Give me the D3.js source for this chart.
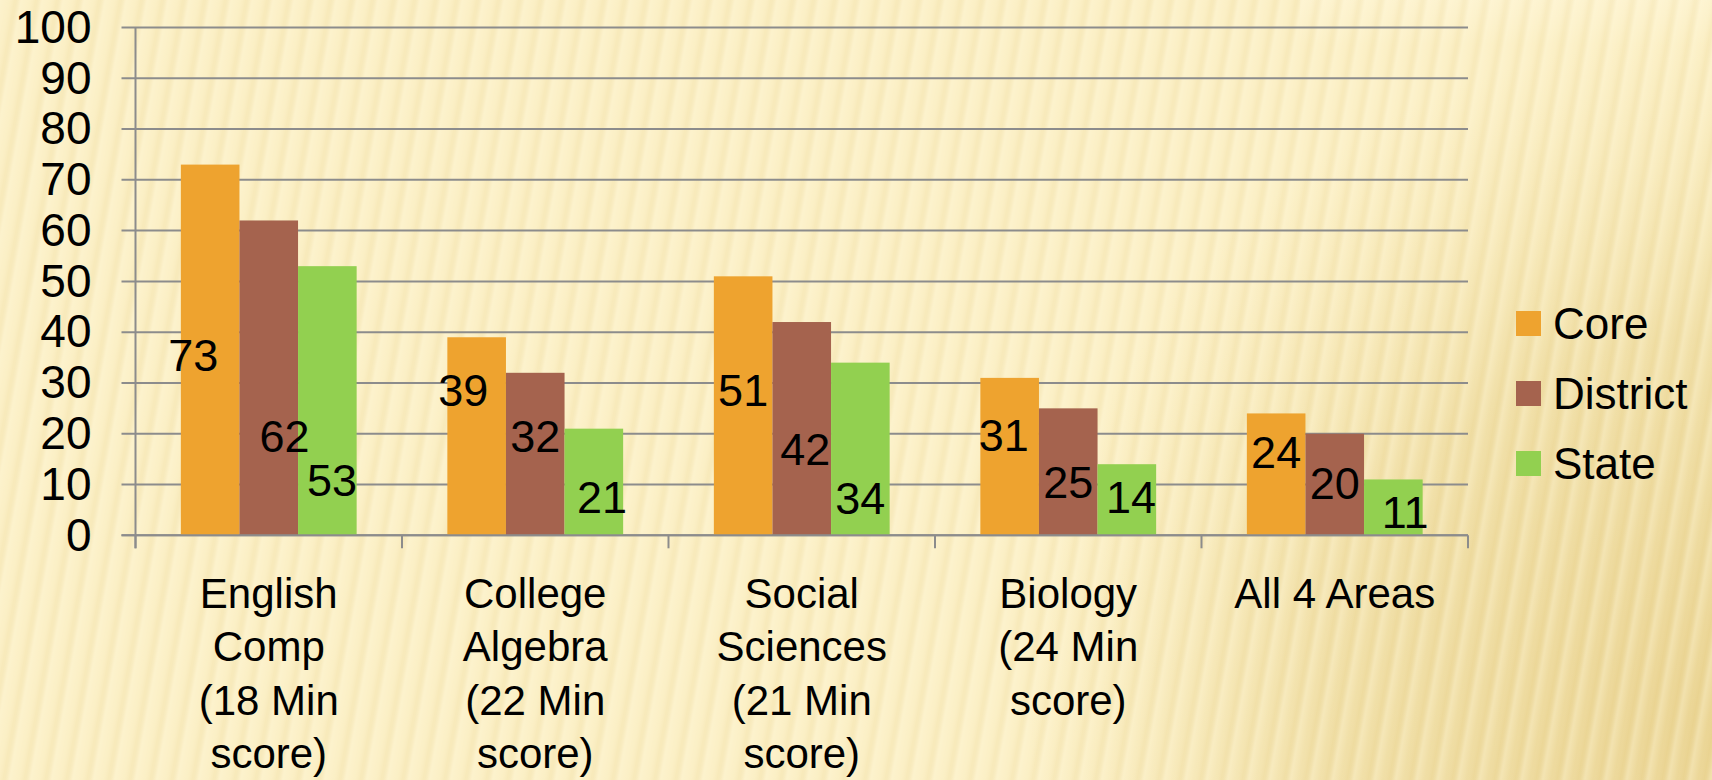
<!DOCTYPE html>
<html lang="en">
<head>
<meta charset="utf-8">
<script src="https://d3js.org/d3.v7.min.js"></script>
<style>
  html, body { margin: 0; padding: 0; background: #fbefc4; }
  svg { display: block; }
  text { font-family: "Liberation Sans", Arial, sans-serif; fill: #000; }
</style>
</head>
<body>
<div id="my_dataviz"></div>
<script>

// data
var categories = ["English Comp", "College Algebra", "Social Sciences", "Biology", "All 4 Areas"];
var categoryLines = [
  ["English", "Comp", "(18 Min", "score)"],
  ["College", "Algebra", "(22 Min", "score)"],
  ["Social", "Sciences", "(21 Min", "score)"],
  ["Biology", "(24 Min", "score)"],
  ["All 4 Areas"]
];
var seriesNames = ["Core", "District", "State"];
var core     = [73, 39, 51, 31, 24];
var district = [62, 32, 42, 25, 20];
var state    = [53, 21, 34, 14, 11];
// where the value labels sit, in axis units (they are not centred in the original)
var coreLabelAt     = [35.5, 28.6, 28.6, 19.7, 16.5];
var districtLabelAt = [19.6, 19.6, 17.1, 10.5, 10.4];
var stateLabelAt    = [10.9, 7.5, 7.4, 7.5, 4.6];
// sideways nudge of the labels, in bar widths
var coreLabelShift     = [-0.29, -0.23, 0, -0.1, 0];
var districtLabelShift = [0.27, 0, 0.06, 0, 0];
var stateLabelShift    = [0.08, 0.14, 0, 0.07, 0.2];
var yTicks = [0, 10, 20, 30, 40, 50, 60, 70, 80, 90, 100];

var seriesValues = [core, district, state];
var seriesLabelAt = [coreLabelAt, districtLabelAt, stateLabelAt];
var seriesLabelShift = [coreLabelShift, districtLabelShift, stateLabelShift];
var colors = ["#eea32f", "#a5634e", "#92d050"];

var W = 1712, H = 780;
// plot box (note: "top" is taken by window.top, so use other names)
var plotLeft = 135.5, plotRight = 1468, plotTop = 27.5, plotBottom = 535.3;

var svg = d3.select("#my_dataviz")
  .append("svg")
  .attr("width", W)
  .attr("height", H);

// ---- background: pale yellow with slanted soft stripes, darker to the right
var defs = svg.append("defs");

var sg = defs.append("linearGradient").attr("id", "stripeGrad")
  .attr("x1", "0").attr("x2", "1").attr("y1", "0").attr("y2", "0");
sg.append("stop").attr("offset", "0%").attr("stop-color", "#fff7da").attr("stop-opacity", 0.4);
sg.append("stop").attr("offset", "40%").attr("stop-color", "#fff7da").attr("stop-opacity", 0.1);
sg.append("stop").attr("offset", "70%").attr("stop-color", "#e8d291").attr("stop-opacity", 0.2);
sg.append("stop").attr("offset", "100%").attr("stop-color", "#fff7da").attr("stop-opacity", 0.4);

var pat = defs.append("pattern").attr("id", "stripes")
  .attr("patternUnits", "userSpaceOnUse")
  .attr("width", 21).attr("height", 780)
  .attr("patternTransform", "skewX(-10)");
pat.append("rect").attr("width", 21).attr("height", 780).attr("fill", "url(#stripeGrad)");

var rg = defs.append("radialGradient").attr("id", "shade")
  .attr("gradientUnits", "userSpaceOnUse")
  .attr("cx", 1712).attr("cy", 720).attr("r", 950);
rg.append("stop").attr("offset", "0%").attr("stop-color", "#e4ca80").attr("stop-opacity", 0.8);
rg.append("stop").attr("offset", "40%").attr("stop-color", "#e8d28e").attr("stop-opacity", 0.6);
rg.append("stop").attr("offset", "72%").attr("stop-color", "#efdca0").attr("stop-opacity", 0.0);

var tg = defs.append("linearGradient").attr("id", "topLight")
  .attr("x1", "0").attr("x2", "0").attr("y1", "0").attr("y2", "1");
tg.append("stop").attr("offset", "0%").attr("stop-color", "#fdf3cf").attr("stop-opacity", 0.9);
tg.append("stop").attr("offset", "100%").attr("stop-color", "#fdf3cf").attr("stop-opacity", 0);

var bg = svg.append("g");
bg.append("rect").attr("width", W).attr("height", H).attr("fill", "#fbefc4");
bg.append("rect").attr("width", W).attr("height", H).attr("fill", "url(#shade)");
bg.append("rect").attr("x", 1300).attr("y", 0).attr("width", 412).attr("height", 45).attr("fill", "url(#topLight)");
bg.append("rect").attr("x", -200).attr("width", W + 400).attr("height", H).attr("fill", "url(#stripes)");

// ---- scales
var x = d3.scaleBand()
  .domain(categories)
  .range([plotLeft, plotRight])
  .paddingInner(0)
  .paddingOuter(0);

var xSub = d3.scaleBand()
  .domain(seriesNames)
  .range([0, x.bandwidth()])
  .paddingInner(0)
  .paddingOuter(0.774);

var y = d3.scaleLinear()
  .domain([0, 100])
  .range([plotBottom, plotTop]);

// gridlines
svg.append("g")
  .selectAll("line")
  .data(yTicks)
  .enter()
  .append("line")
  .attr("x1", plotLeft - 14)
  .attr("x2", plotRight)
  .attr("y1", function(d) { return y(d); })
  .attr("y2", function(d) { return y(d); })
  .attr("stroke", "#8c8c8c")
  .attr("stroke-width", 2);

// y axis labels
var yAxis = svg.append("g")
  .attr("transform", "translate(" + plotLeft + ",0)")
  .call(d3.axisLeft(y).tickValues(yTicks).tickSize(14).tickPadding(30));
yAxis.select(".domain").remove();
yAxis.selectAll(".tick line").remove();
yAxis.selectAll("text")
  .style("font-family", "'Liberation Sans', Arial, sans-serif")
  .style("font-size", "46px")
  .attr("fill", "#000");

// axis lines
svg.append("line")
  .attr("x1", plotLeft).attr("x2", plotLeft)
  .attr("y1", y(100)).attr("y2", plotBottom + 13)
  .attr("stroke", "#8c8c8c").attr("stroke-width", 2);

var xTickPos = categories.map(function(c) { return x(c); }).concat([plotRight]);
svg.append("g")
  .selectAll("line")
  .data(xTickPos)
  .enter()
  .append("line")
  .attr("x1", function(d) { return d; })
  .attr("x2", function(d) { return d; })
  .attr("y1", plotBottom)
  .attr("y2", plotBottom + 13)
  .attr("stroke", "#8c8c8c")
  .attr("stroke-width", 2);

// bars
function rows(d, i) {
  return seriesNames.map(function(s, k) {
    return {
      series: s, k: k,
      value: seriesValues[k][i],
      labelAt: seriesLabelAt[k][i],
      shift: seriesLabelShift[k][i]
    };
  });
}

var groups = svg.append("g")
  .selectAll("g")
  .data(categories)
  .enter()
  .append("g")
  .attr("transform", function(d) { return "translate(" + x(d) + ",0)"; });

groups.selectAll("rect")
  .data(rows)
  .enter()
  .append("rect")
  .attr("x", function(d) { return xSub(d.series); })
  .attr("width", xSub.bandwidth())
  .attr("y", function(d) { return y(d.value); })
  .attr("height", function(d) { return y(0) - y(d.value); })
  .attr("fill", function(d) { return colors[d.k]; });

// zero line over the bar bottoms
svg.append("line")
  .attr("x1", plotLeft - 14).attr("x2", plotRight)
  .attr("y1", plotBottom).attr("y2", plotBottom)
  .attr("stroke", "#8c8c8c").attr("stroke-width", 2);

// value labels
groups.selectAll("text.val")
  .data(rows)
  .enter()
  .append("text")
  .attr("class", "val")
  .attr("x", function(d) { return xSub(d.series) + xSub.bandwidth() * (0.5 + d.shift); })
  .attr("y", function(d) { return y(d.labelAt); })
  .attr("dy", "0.36em")
  .attr("text-anchor", "middle")
  .style("font-size", "45px")
  .text(function(d) { return d.value; });

// category labels
svg.append("g")
  .selectAll("text")
  .data(categories)
  .enter()
  .append("text")
  .attr("text-anchor", "middle")
  .attr("y", 608)
  .style("font-size", "42px")
  .each(function(d, i) {
    var t = d3.select(this);
    categoryLines[i].forEach(function(line, j) {
      t.append("tspan")
        .attr("x", x(d) + x.bandwidth() / 2)
        .attr("dy", j === 0 ? 0 : 53.3)
        .text(line);
    });
  });

// legend
var legend = svg.append("g")
  .selectAll("g")
  .data(seriesNames)
  .enter()
  .append("g")
  .attr("transform", function(d, i) { return "translate(1516," + (311 + i * 70) + ")"; });

legend.append("rect")
  .attr("width", 25)
  .attr("height", 25)
  .attr("fill", function(d, i) { return colors[i]; });

legend.append("text")
  .attr("x", 37)
  .attr("y", 12.5)
  .attr("dy", "0.36em")
  .style("font-size", "44px")
  .text(function(d) { return d; });

</script>
</body>
</html>
